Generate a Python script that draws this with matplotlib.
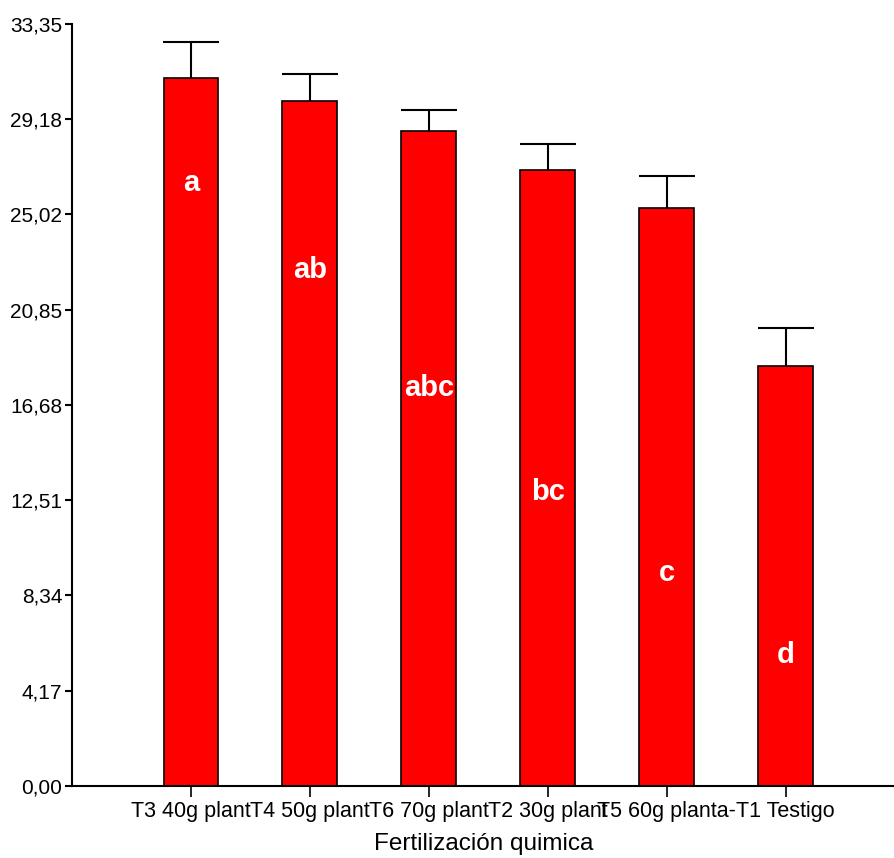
import numpy as np
import matplotlib.pyplot as plt

plt.rcParams['font.family'] = ['Liberation Sans', 'DejaVu Sans']

# data
tratamientos = ["T3 40g plant", "T4 50g plant", "T6 70g plant",
                "T2 30g plant", "T5 60g planta-", "T1 Testigo"]
medias = [30.98, 29.98, 28.67, 26.96, 25.30, 18.38]
error_sup = [1.58, 1.18, 0.91, 1.14, 1.40, 1.66]
letras = ["a", "ab", "abc", "bc", "c", "d"]
pos_letras = [26.39, 22.58, 17.42, 12.87, 9.32, 5.73]
yticks = [0.00, 4.17, 8.34, 12.51, 16.68, 20.85, 25.02, 29.18, 33.35]

fig = plt.figure(figsize=(8.95, 8.58), dpi=100)
ax = fig.add_axes([0.0804, 0.0839, 0.9196, 0.8881])

xs = np.arange(len(tratamientos))
ancho = 0.46
eb = ax.errorbar(xs, medias, yerr=[np.zeros(len(medias)), error_sup], fmt='none',
                 ecolor='black', elinewidth=1.5, capsize=20, capthick=1.5, zorder=1)
# solo la barra de error superior
eb[1][0].set_visible(False)
ax.bar(xs, medias, width=ancho, color='#ff0000', edgecolor='black',
       linewidth=1.2, zorder=2)

for x, y, t in zip(xs, pos_letras, letras):
    ax.text(x, y, t, color='white', fontsize=21, fontweight='bold',
            ha='center', va='center', zorder=3)

ax.set_xlim(-1.0, 5.92)
ax.set_ylim(0, 33.35)
ax.set_yticks(yticks)
ax.set_yticklabels([f"{v:.2f}".replace('.', ',') for v in yticks], fontsize=15)
ax.set_xticks(xs)
ax.set_xticklabels(tratamientos, fontsize=15.5)
ax.set_xlabel("Fertilización quimica", fontsize=17.5, labelpad=8)

ax.spines['top'].set_visible(False)
ax.spines['right'].set_visible(False)
ax.spines['left'].set_linewidth(1.5)
ax.spines['bottom'].set_linewidth(1.5)
ax.tick_params(axis='y', length=5, width=1.5, pad=2)
ax.tick_params(axis='x', length=8, width=1.2, pad=3)

fig.savefig("out.png", dpi=100)
